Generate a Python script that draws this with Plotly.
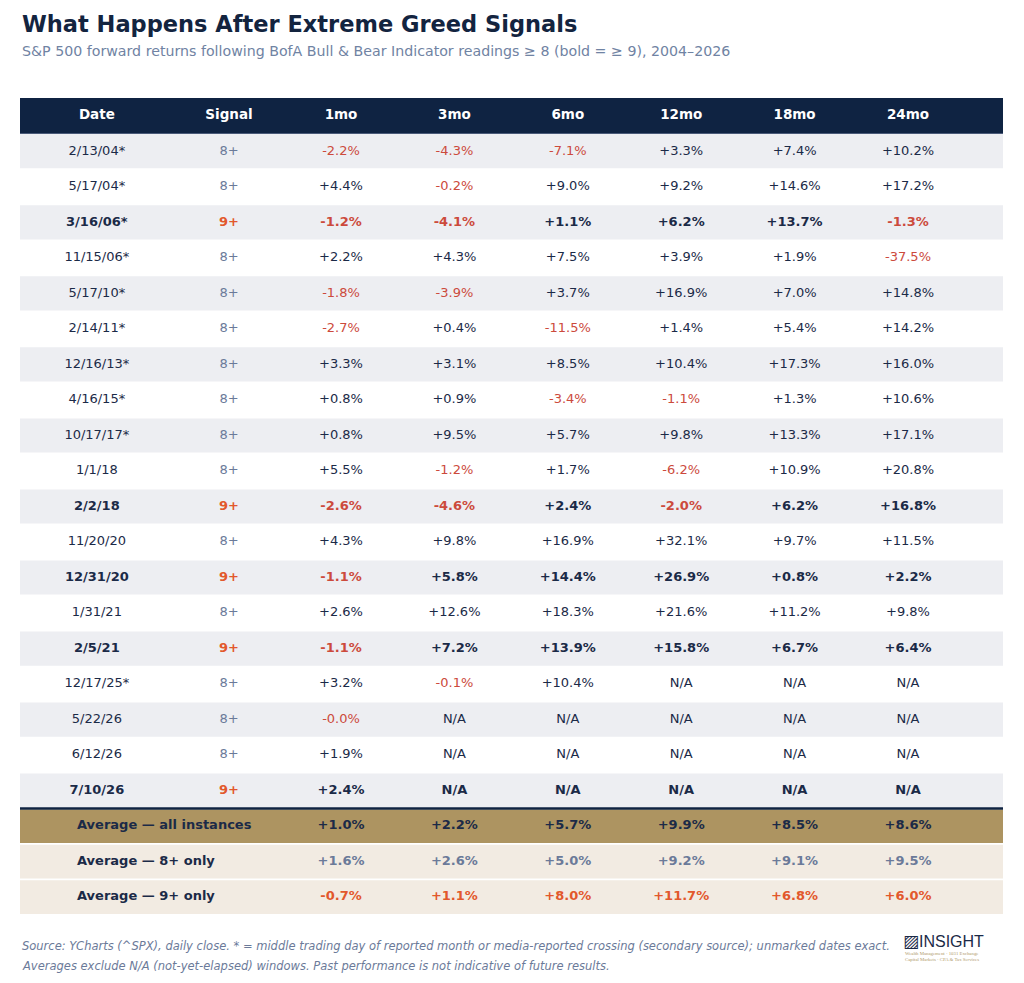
import math
import plotly.graph_objects as go

# ---- data ----
columns = ["Date", "Signal", "1mo", "3mo", "6mo", "12mo", "18mo", "24mo"]
dates = ["2/13/04*", "5/17/04*", "3/16/06*", "11/15/06*", "5/17/10*", "2/14/11*",
         "12/16/13*", "4/16/15*", "10/17/17*", "1/1/18", "2/2/18", "11/20/20",
         "12/31/20", "1/31/21", "2/5/21", "12/17/25*", "5/22/26", "6/12/26", "7/10/26"]
signals = [8, 8, 9, 8, 8, 8, 8, 8, 8, 8, 9, 8, 9, 8, 9, 8, 8, 8, 9]
ret_1mo = [-2.2, 4.4, -1.2, 2.2, -1.8, -2.7, 3.3, 0.8, 0.8, 5.5, -2.6, 4.3, -1.1, 2.6, -1.1, 3.2, -0.0, 1.9, 2.4]
ret_3mo = [-4.3, -0.2, -4.1, 4.3, -3.9, 0.4, 3.1, 0.9, 9.5, -1.2, -4.6, 9.8, 5.8, 12.6, 7.2, -0.1, None, None, None]
ret_6mo = [-7.1, 9.0, 1.1, 7.5, 3.7, -11.5, 8.5, -3.4, 5.7, 1.7, 2.4, 16.9, 14.4, 18.3, 13.9, 10.4, None, None, None]
ret_12mo = [3.3, 9.2, 6.2, 3.9, 16.9, 1.4, 10.4, -1.1, 9.8, -6.2, -2.0, 32.1, 26.9, 21.6, 15.8, None, None, None, None]
ret_18mo = [7.4, 14.6, 13.7, 1.9, 7.0, 5.4, 17.3, 1.3, 13.3, 10.9, 6.2, 9.7, 0.8, 11.2, 6.7, None, None, None, None]
ret_24mo = [10.2, 17.2, -1.3, -37.5, 14.8, 14.2, 16.0, 10.6, 17.1, 20.8, 16.8, 11.5, 2.2, 9.8, 6.4, None, None, None, None]

avg_labels = ["Average — all instances", "Average — 8+ only", "Average — 9+ only"]
avg_all = [1.0, 2.2, 5.7, 9.9, 8.5, 8.6]
avg_8 = [1.6, 2.6, 5.0, 9.2, 9.1, 9.5]
avg_9 = [-0.7, 1.1, 8.0, 11.7, 6.8, 6.0]

# ---- styling ----
NAVY = "#0f2342"
TEXT = "#1b2a47"
SLATE = "#6b7a99"
RED = "#cc4a3c"
ORANGE = "#e2582c"
GRAY_ROW = "#edeef2"
GOLD = "#ad9461"
BEIGE = "#f2ebe2"
FONT = "DejaVu Sans"

col_widths = [153.7, 110.6, 113.4, 113.4, 113.4, 113.4, 113.4, 113.4]
table_width = 983
centers = []
left = 0
for w in col_widths:
    centers.append(left + w / 2)
    left += w

returns = [ret_1mo, ret_3mo, ret_6mo, ret_12mo, ret_18mo, ret_24mo]
n = len(dates)
data_rows = list(range(1, n + 1))
avg_rows = [n + 1, n + 2, n + 3]


def fmt(v):
    return "N/A" if v is None else f"{v:+.1f}%"


def is_neg(v):
    return v is not None and math.copysign(1, v) < 0


fig = go.Figure()

# row backgrounds
bar_y = [0] + data_rows + avg_rows
bar_c = [NAVY] + [GRAY_ROW if i % 2 == 0 else "rgba(0,0,0,0)" for i in range(n)] + [GOLD, BEIGE, BEIGE]
bar_w = [1.0] + [0.96] * n + [0.94, 0.95, 0.95]
fig.add_trace(go.Bar(
    orientation="h", y=bar_y, x=[table_width] * len(bar_y), base=0,
    width=bar_w, marker=dict(color=bar_c, line=dict(width=0)),
    hoverinfo="skip", showlegend=False,
))

# header
fig.add_trace(go.Scatter(
    x=centers, y=[0] * len(columns), mode="text",
    text=[f"<b>{c}</b>" for c in columns],
    textfont=dict(family=FONT, size=13.5, color="white"),
    hoverinfo="skip", showlegend=False,
))

bold = [s >= 9 for s in signals]


def wrap(t, b):
    return f"<b>{t}</b>" if b else t


# date column
fig.add_trace(go.Scatter(
    x=[centers[0]] * n, y=data_rows, mode="text",
    text=[wrap(d, b) for d, b in zip(dates, bold)],
    textfont=dict(family=FONT, size=13, color=TEXT),
    hoverinfo="skip", showlegend=False,
))

# signal column
fig.add_trace(go.Scatter(
    x=[centers[1]] * n, y=data_rows, mode="text",
    text=[wrap(f"{s}+", b) for s, b in zip(signals, bold)],
    textfont=dict(family=FONT, size=13, color=[ORANGE if b else SLATE for b in bold]),
    hoverinfo="skip", showlegend=False,
))

# return columns
for j, vals in enumerate(returns):
    fig.add_trace(go.Scatter(
        x=[centers[j + 2]] * n, y=data_rows, mode="text",
        text=[wrap(fmt(v), b) for v, b in zip(vals, bold)],
        textfont=dict(family=FONT, size=13,
                      color=[RED if is_neg(v) else TEXT for v in vals]),
        hoverinfo="skip", showlegend=False,
    ))

# averages
fig.add_trace(go.Scatter(
    x=[57] * 3, y=avg_rows, mode="text", textposition="middle right",
    text=[f"<b>{t}</b>" for t in avg_labels],
    textfont=dict(family=FONT, size=13, color=TEXT),
    hoverinfo="skip", showlegend=False,
))
avg_colors = [TEXT, SLATE, ORANGE]
for row, vals, colr in zip(avg_rows, [avg_all, avg_8, avg_9], avg_colors):
    fig.add_trace(go.Scatter(
        x=centers[2:], y=[row] * len(vals), mode="text",
        text=[f"<b>{fmt(v)}</b>" for v in vals],
        textfont=dict(family=FONT, size=13, color=colr),
        hoverinfo="skip", showlegend=False,
    ))

# separator lines
fig.add_shape(type="line", xref="x", yref="y", x0=0, x1=table_width, y0=n + 0.5, y1=n + 0.5,
              line=dict(color=NAVY, width=2.5))
fig.add_shape(type="line", xref="x", yref="y", x0=0, x1=table_width, y0=0.5, y1=0.5,
              line=dict(color="#4a5a78", width=1))

# page body has an 8px margin, so the figure is laid out 8px smaller
PAGE_PAD = 8
TOP, BOTTOM = 98, 915


def py(p):
    return (BOTTOM - p) / (BOTTOM - TOP)


def px_(p):
    return (p - 20) / table_width


annotations = [
    dict(text="<b>What Happens After Extreme Greed Signals</b>", x=px_(20), y=py(24),
         font=dict(family=FONT, size=22.5, color="#13243f")),
    dict(text="S&P 500 forward returns following BofA Bull & Bear Indicator readings ≥ 8 (bold = ≥ 9), 2004–2026",
         x=px_(20), y=py(51), font=dict(family=FONT, size=14.2, color="#7083a3")),
    dict(text="<i>Source: YCharts (^SPX), daily close. * = middle trading day of reported month or media-reported crossing (secondary source); unmarked dates exact.</i>",
         x=px_(20), y=py(946), font=dict(family=FONT, size=11.5, color="#6b7a99")),
    dict(text="<i>Averages exclude N/A (not-yet-elapsed) windows. Past performance is not indicative of future results.</i>",
         x=px_(20), y=py(966), font=dict(family=FONT, size=11.5, color="#6b7a99")),
    dict(text="▨", x=px_(901), y=py(941), font=dict(family=FONT, size=17, color="#1b2a47")),
    dict(text="INSIGHT", x=px_(917), y=py(941), font=dict(family="Liberation Sans", size=16, color="#1b2a47")),
    dict(text="Wealth Management · 1031 Exchange<br>Capital Markets · CPA & Tax Services",
         x=px_(903), y=py(956), font=dict(family="Liberation Serif", size=4.8, color="#b09a6a")),
]
for a in annotations:
    fig.add_annotation(xref="paper", yref="paper", xanchor="left", yanchor="middle",
                       showarrow=False, align="left", **a)

W, H = 1024 - PAGE_PAD, 983 - PAGE_PAD
fig.update_layout(
    width=W, height=H,
    margin=dict(l=20 - PAGE_PAD, r=1024 - 1003, t=TOP - PAGE_PAD, b=983 - BOTTOM),
    paper_bgcolor="white", plot_bgcolor="white",
    xaxis=dict(range=[0, table_width], visible=False, fixedrange=True),
    yaxis=dict(range=[len(bar_y) - 0.5, -0.5], visible=False, fixedrange=True),
    barmode="overlay",
)

fig.write_html("out.html")
